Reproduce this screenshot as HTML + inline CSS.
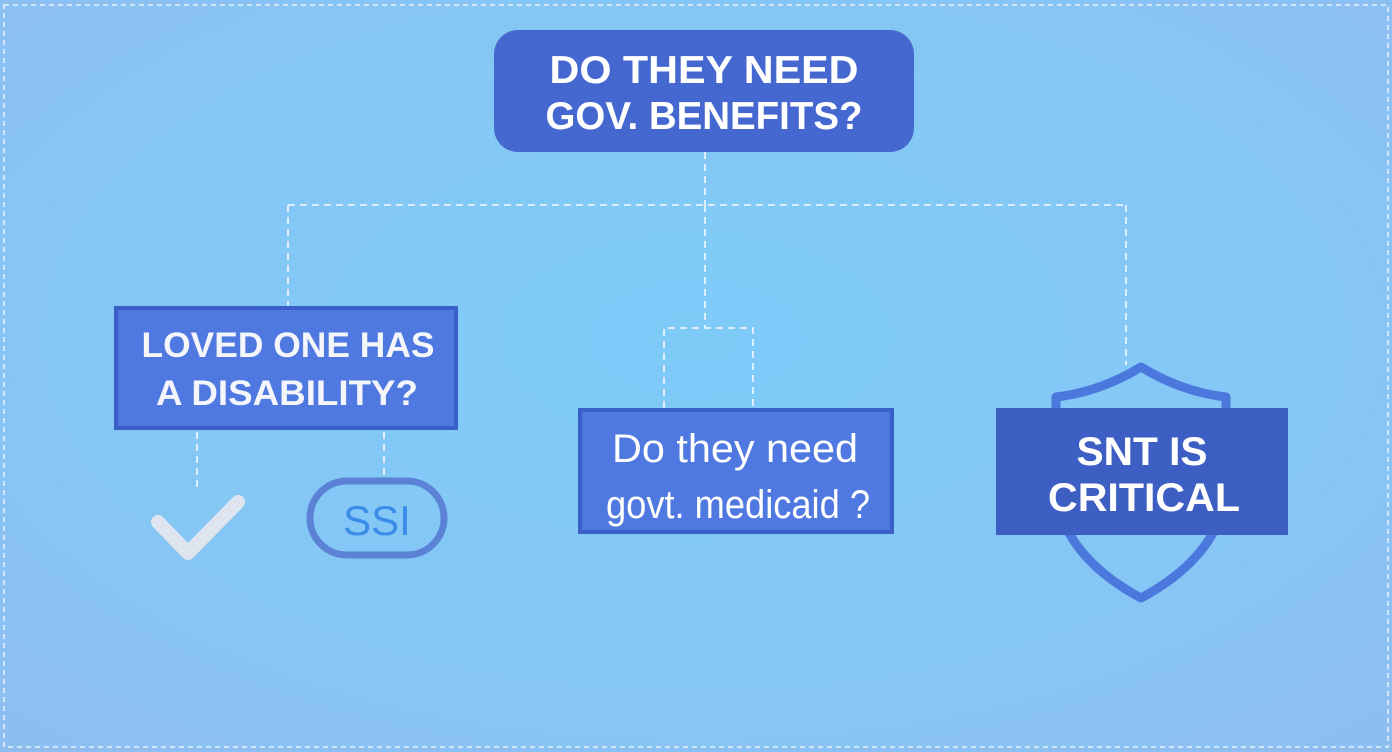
<!DOCTYPE html>
<html><head><meta charset="utf-8"><style>
html,body{margin:0;padding:0;width:1392px;height:752px;overflow:hidden}
svg{display:block}
text{font-family:"Liberation Sans",sans-serif}
</style></head><body>
<svg width="1392" height="752" viewBox="0 0 1392 752" xmlns="http://www.w3.org/2000/svg">
<defs>
<radialGradient id="bg" cx="50%" cy="45%" r="75%">
<stop offset="0" stop-color="#7ecbf8"/>
<stop offset="0.6" stop-color="#86c6f5"/>
<stop offset="1" stop-color="#8fbdf0"/>
</radialGradient>
</defs>
<rect width="1392" height="752" fill="url(#bg)"/>
<rect x="4" y="5" width="1384" height="742" fill="none" stroke="#e8f3fc" stroke-width="1.5" stroke-dasharray="5,4"/>
<g fill="none" stroke="#e6f2fc" stroke-width="1.8" stroke-dasharray="7,5">
<path d="M705 152 V205 M288 205 H1126 M288 205 V306 M1126 205 V365 M705 205 V328 M664 408 V328 H753 V408 M197 432 V490 M384 432 V476"/>
</g>
<rect x="494" y="30" width="420" height="122" rx="24" fill="#4468d0"/>
<text x="704" y="83" text-anchor="middle" font-size="39" font-weight="bold" fill="#fff" textLength="309" lengthAdjust="spacingAndGlyphs">DO THEY NEED</text>
<text x="704" y="129" text-anchor="middle" font-size="39" font-weight="bold" fill="#fff" textLength="317" lengthAdjust="spacingAndGlyphs">GOV. BENEFITS?</text>
<rect x="116" y="308" width="340" height="120" fill="#4f78e0" stroke="#3a5fc8" stroke-width="4"/>
<text x="288" y="357" text-anchor="middle" font-size="35" font-weight="bold" fill="#f4f6fb" textLength="293" lengthAdjust="spacingAndGlyphs">LOVED ONE HAS</text>
<text x="287" y="405" text-anchor="middle" font-size="35" font-weight="bold" fill="#f4f6fb" textLength="262" lengthAdjust="spacingAndGlyphs">A DISABILITY?</text>
<polyline points="158,522 188,553 238,502" fill="none" stroke="#dfe5ee" stroke-width="14" stroke-linecap="round" stroke-linejoin="round"/>
<rect x="310" y="481" width="134" height="74" rx="37" fill="none" stroke="#5b82d4" stroke-width="7"/>
<text x="377" y="535" text-anchor="middle" font-size="42" fill="#3a8ce8">SSI</text>
<rect x="580" y="410" width="312" height="122" fill="#4f78e0" stroke="#3a5fc8" stroke-width="4"/>
<text x="735" y="462" text-anchor="middle" font-size="40" fill="#fff" textLength="246" lengthAdjust="spacingAndGlyphs">Do they need</text>
<text x="738" y="518" text-anchor="middle" font-size="40" fill="#fff" textLength="264" lengthAdjust="spacingAndGlyphs">govt. medicaid ?</text>
<path d="M1141 367 Q1100 392 1056 397 L1056 500 Q1070 560 1141 598 Q1212 560 1226 500 L1226 397 Q1182 392 1141 367 Z" fill="none" stroke="#4a78dc" stroke-width="9" stroke-linejoin="round"/>
<rect x="996" y="408" width="292" height="127" fill="#3d5fc4"/>
<text x="1142" y="465" text-anchor="middle" font-size="40" font-weight="bold" fill="#fff" textLength="131" lengthAdjust="spacingAndGlyphs">SNT IS</text>
<text x="1144" y="511" text-anchor="middle" font-size="40" font-weight="bold" fill="#fff" textLength="192" lengthAdjust="spacingAndGlyphs">CRITICAL</text>
</svg>
</body></html>
